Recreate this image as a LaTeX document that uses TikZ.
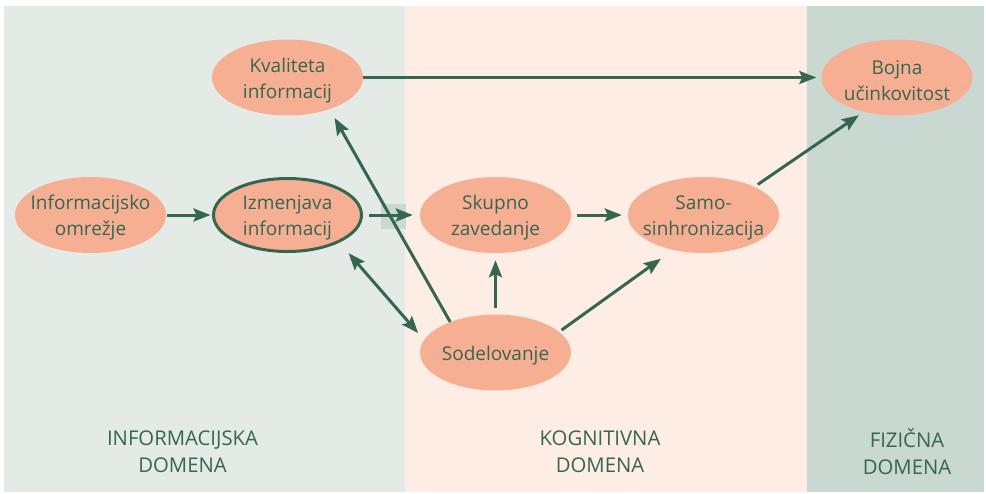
\documentclass[tikz,border=0pt]{standalone}
\usepackage{fontspec}
\setmainfont{Open Sans}
\usetikzlibrary{arrows.meta,shapes.geometric}
\definecolor{dg}{HTML}{35664F}
\definecolor{bubc}{HTML}{F7AF93}
\definecolor{pinf}{HTML}{E4EBE6}
\definecolor{pkog}{HTML}{FDEDE5}
\definecolor{pfiz}{HTML}{C9D8D1}
\begin{document}
\begin{tikzpicture}[x=1pt,y=-1pt,
  bub/.style={ellipse, fill=bubc, minimum width=151pt, minimum height=76pt, inner sep=0pt},
  lab/.style={font=\fontsize{19}{26}\selectfont, text=dg, align=center, inner sep=0pt},
  dom/.style={font=\fontsize{20.3}{27}\selectfont, text=dg, align=center, inner sep=0pt},
  arr/.style={draw=dg, line width=3pt, -{Stealth[length=17pt,width=13pt,inset=3pt]}},
]
\useasboundingbox (0,0) rectangle (986,493);
% panels
\fill[pinf] (4,6) rectangle (405,492);
\fill[pkog] (405,6) rectangle (807,492);
\fill[pfiz] (807,6) rectangle (984,492);
\fill[pfiz] (381,204) rectangle (406,229);

% bubbles
\node[bub] (kv) at (287.5,77.5) {};
\node[bub] (bo) at (897,77.5) {};
\node[bub] (inf) at (90.5,215) {};
\node[bub, draw=dg, line width=3pt, minimum width=148pt, minimum height=73pt] (iz) at (287.5,215) {};
\node[bub] (sk) at (495.5,215) {};
\node[bub] (sa) at (703.5,215) {};
\node[bub] (so) at (495.5,352.5) {};

% texts
\node[lab] (kvt) at ([yshift=-3pt]kv.center) {Kvaliteta\\informacij};
\node[lab] (bot) at ([yshift=-3pt]bo.center) {Bojna\\učinkovitost};
\node[lab] (inft) at ([yshift=-3pt]inf.center) {Informacijsko\\omrežje};
\node[lab] (izt) at ([yshift=-3pt]iz.center) {Izmenjava\\informacij};
\node[lab] (skt) at ([yshift=-3pt]sk.center) {Skupno\\zavedanje};
\node[lab] (sat) at ([yshift=-3pt]sa.center) {Samo-\\sinhronizacija};
\node[lab] (sot) at ([yshift=-3pt]so.center) {Sodelovanje};

% domain labels
\node[dom] (d1) at (182.5,452) {INFORMACIJSKA\\DOMENA};
\node[dom] (d2) at (600,452) {KOGNITIVNA\\DOMENA};
\node[dom] (d3) at (907,452) {FIZIČNA\\DOMENA};

% arrows
\draw[arr, shorten <=1pt, shorten >=1.5pt] (inf.east) -- (iz.west);
\draw[arr, shorten <=6pt, shorten >=7pt] (iz.east) -- (sk.west);
\draw[arr, shorten <=6pt, shorten >=6pt] (sk.east) -- (sa.west);
\draw[arr, shorten >=5pt] (kv.east) -- (bo.west);
\draw[arr, shorten <=6pt, shorten >=7pt] (so.north) -- (sk.south);
\draw[arr, shorten >=10pt] (so.146) -- (kv.-37);
\draw[arr, {Stealth[length=17pt,width=13pt,inset=3pt]}-{Stealth[length=17pt,width=13pt,inset=3pt]}, shorten <=14pt, shorten >=9pt] (iz.-28) -- (so.170);
\draw[arr, shorten <=3pt, shorten >=15pt] (so.18) -- (sa.229);
\draw[arr, shorten <=4pt, shorten >=6pt] (sa.29) -- (bo.226);
\end{tikzpicture}
\end{document}
